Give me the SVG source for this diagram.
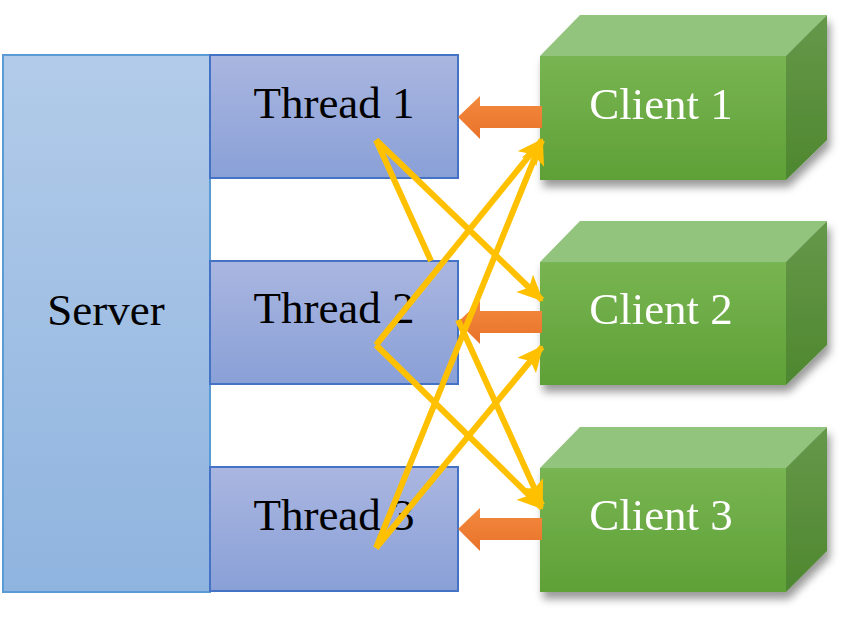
<svg xmlns="http://www.w3.org/2000/svg" width="852" height="627" viewBox="0 0 852 627">
<defs>
<style>
.lbl{font-family:"Liberation Serif","Times New Roman",serif;font-size:45px;text-anchor:middle}
.dark{fill:#000}
.light{fill:#fff}
.thread{fill:url(#gThread);stroke:#4472c4;stroke-width:2}
.front{fill:url(#gFront)}
.top{fill:#93c47d}
.side{fill:url(#gSide)}
.yl{fill:none;stroke:#ffc000;stroke-width:6;marker-end:url(#ah)}
.or{fill:url(#gOrange)}
</style>
<linearGradient id="gServer" x1="0" y1="0" x2="0" y2="1"><stop offset="0" stop-color="#b2cbe9"/><stop offset="1" stop-color="#8fb4df"/></linearGradient>
<linearGradient id="gThread" x1="0" y1="0" x2="0" y2="1"><stop offset="0" stop-color="#aab6e0"/><stop offset="1" stop-color="#89a0d7"/></linearGradient>
<linearGradient id="gFront" x1="0" y1="0" x2="0" y2="1"><stop offset="0" stop-color="#78b552"/><stop offset="1" stop-color="#5fa036"/></linearGradient>
<linearGradient id="gSide" x1="0" y1="0" x2="0" y2="1"><stop offset="0" stop-color="#66984a"/><stop offset="1" stop-color="#4e872f"/></linearGradient>
<linearGradient id="gOrange" x1="0" y1="0" x2="0" y2="1"><stop offset="0" stop-color="#f28a3e"/><stop offset="1" stop-color="#e9722a"/></linearGradient>
<filter id="sh" x="-10%" y="-10%" width="125%" height="130%"><feDropShadow dx="3" dy="7" stdDeviation="4" flood-color="#000" flood-opacity="0.4"/></filter>
<marker id="ah" markerUnits="userSpaceOnUse" viewBox="0 0 26 24" refX="24" refY="12" markerWidth="26" markerHeight="24" orient="auto"><path d="M0,0 L26,12 L0,24 L6,12 Z" fill="#ffc000"/></marker>
</defs>
<rect width="852" height="627" fill="#fff"/>

<g id="server">
<rect x="3" y="55" width="207" height="537" fill="url(#gServer)" stroke="#5b9bd5" stroke-width="2"/>
<text class="lbl dark" x="106" y="325">Server</text>
</g>

<g id="thread1">
<rect class="thread" x="210" y="55" width="248" height="123"/>
<text class="lbl dark" x="334" y="118">Thread 1</text>
</g>
<g id="thread2">
<rect class="thread" x="210" y="261" width="248" height="123"/>
<text class="lbl dark" x="334" y="323">Thread 2</text>
</g>
<g id="thread3">
<rect class="thread" x="210" y="467" width="248" height="124"/>
<text class="lbl dark" x="334" y="530">Thread 3</text>
</g>

<g id="client1" filter="url(#sh)">
<polygon class="top" points="540,56 580,15 827,15 786,56"/>
<polygon class="side" points="786,56 827,15 827,140 786,180"/>
<rect class="front" x="540" y="56" width="246" height="124"/>
<text class="lbl light" x="661" y="119">Client 1</text>
</g>
<g id="client2" filter="url(#sh)">
<polygon class="top" points="540,262 580,221 827,221 786,262"/>
<polygon class="side" points="786,262 827,221 827,345 786,385"/>
<rect class="front" x="540" y="262" width="246" height="123"/>
<text class="lbl light" x="661" y="324">Client 2</text>
</g>
<g id="client3" filter="url(#sh)">
<polygon class="top" points="540,468 580,427 827,427 786,468"/>
<polygon class="side" points="786,468 827,427 827,551 786,592"/>
<rect class="front" x="540" y="468" width="246" height="124"/>
<text class="lbl light" x="661" y="530">Client 3</text>
</g>

<g id="connectors">
<polygon class="or" points="458,117 480,96 480,106 542,106 542,128 480,128 480,139"/>
<polygon class="or" points="458,322 480,301 480,311 542,311 542,333 480,333 480,344"/>
<polygon class="or" points="458,529 480,508 480,518 542,518 542,540 480,540 480,551"/>
<path class="yl" d="M376,140 L431,261 M458,320 L542,505"/>
<path class="yl" d="M376,140 L542,300"/>
<path class="yl" d="M376,345 L542,140"/>
<path class="yl" d="M376,345 L542,508"/>
<path class="yl" d="M376,548 L542,140"/>
<path class="yl" d="M376,548 L542,347"/>
</g>
</svg>
